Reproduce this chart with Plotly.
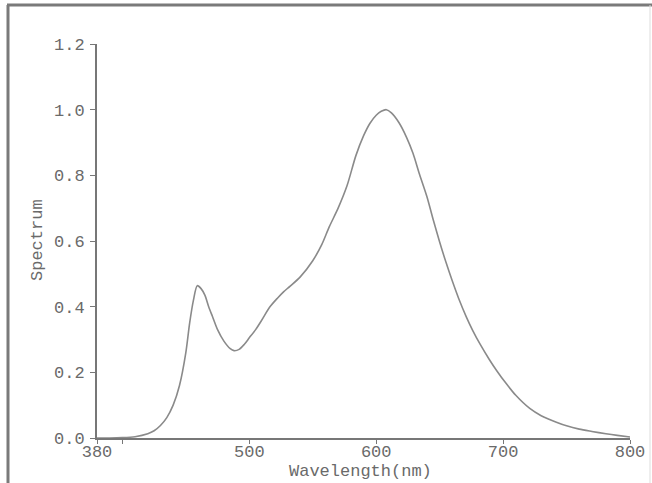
import plotly.graph_objects as go

wavelength = [380, 390, 400, 410, 420, 425, 430, 435, 440, 445, 450, 453, 456, 459,
              462, 465, 468, 471, 475, 480, 485, 488, 492, 496, 500, 505, 510, 516,
              522, 527, 532, 540, 550, 557, 563, 570, 577, 584, 590, 595, 600, 604,
              608, 612, 618, 624, 629, 634, 640, 645, 650, 655, 660, 665, 671, 676,
              682, 689, 695, 702, 710, 721, 730, 742, 750, 760, 770, 781, 790, 800]
spectrum = [0.0, 0.0, 0.001, 0.004, 0.013, 0.022, 0.038, 0.062, 0.10, 0.16, 0.26, 0.35,
            0.42, 0.464, 0.455, 0.435, 0.40, 0.37, 0.33, 0.295, 0.272, 0.266, 0.27,
            0.285, 0.305, 0.33, 0.36, 0.398, 0.425, 0.445, 0.462, 0.49, 0.54, 0.588,
            0.643, 0.70, 0.768, 0.86, 0.92, 0.958, 0.983, 0.995, 1.0, 0.99, 0.96, 0.915,
            0.867, 0.805, 0.735, 0.664, 0.597, 0.535, 0.478, 0.425, 0.369, 0.328, 0.285,
            0.24, 0.205, 0.168, 0.13, 0.09, 0.068, 0.048, 0.037, 0.027, 0.02, 0.013,
            0.008, 0.003]

x_tickvals = [380, 400, 500, 600, 700, 800]
x_ticktext = ["380", "", "500", "600", "700", "800"]
y_tickvals = [0.0, 0.2, 0.4, 0.6, 0.8, 1.0, 1.2]

W, H = 652, 483
ml, mr, mt, mb = 97, 22, 44, 45
pw, ph = W - ml - mr, H - mt - mb

def px(x):
    return (x - ml) / pw

def py(y):
    return (H - mb - y) / ph

font = dict(family="Liberation Mono, Courier New, monospace", size=17, color="#6a6a6a")
axcol = "#777777"

fig = go.Figure()
fig.add_trace(go.Scatter(x=wavelength, y=spectrum, mode="lines",
                         line=dict(color="#8a8a8a", width=1.6, shape="spline", smoothing=0.8),
                         showlegend=False, hoverinfo="skip"))

fig.update_layout(
    width=W, height=H,
    margin=dict(l=ml, r=mr, t=mt, b=mb, autoexpand=False),
    paper_bgcolor="white", plot_bgcolor="white",
    font=font,
    xaxis=dict(range=[380, 800], tickvals=x_tickvals, ticktext=x_ticktext,
               showline=True, linecolor=axcol, linewidth=2, ticks="outside",
               ticklen=4, tickcolor=axcol, tickwidth=1, showgrid=False, zeroline=False,
               ticklabelstandoff=-7, automargin=False, tickfont=font),
    yaxis=dict(range=[0, 1.2], tickvals=y_tickvals, tickformat=".1f",
               showline=True, linecolor=axcol, linewidth=2, ticks="outside",
               ticklen=5, tickcolor=axcol, tickwidth=1, showgrid=False, zeroline=False,
               ticklabelstandoff=2, automargin=False, tickfont=font),
    annotations=[
        dict(text="Wavelength(nm)", xref="paper", yref="paper", x=px(360), y=py(471),
             xanchor="center", yanchor="middle", showarrow=False, font=font),
        dict(text="Spectrum", xref="paper", yref="paper", x=px(37), y=py(240),
             xanchor="center", yanchor="middle", showarrow=False, textangle=-90, font=font),
    ],
    shapes=[
        dict(type="line", xref="paper", yref="paper", x0=px(8), x1=px(8), y0=py(H + 5), y1=py(5),
             line=dict(color="#7a7a7a", width=3)),
        dict(type="line", xref="paper", yref="paper", x0=px(7), x1=px(W + 5), y0=py(5), y1=py(5),
             line=dict(color="#7a7a7a", width=3)),
        dict(type="line", xref="paper", yref="paper", x0=px(650), x1=px(650), y0=py(H + 5), y1=py(5),
             line=dict(color="#dddddd", width=1)),
    ],
)

fig.write_html("out.html", config={"displayModeBar": False},
               post_script="document.body.style.margin='0';document.body.style.overflow='hidden';")
